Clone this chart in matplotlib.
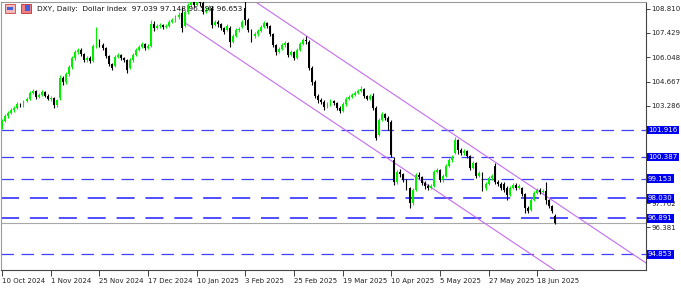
import matplotlib
matplotlib.use("Agg")
import matplotlib.pyplot as plt
from matplotlib.patches import Rectangle

# Daily DXY candles (one entry per trading day)
opens = [102.14, 102.43, 102.71, 102.88, 103.05, 103.17, 103.39, 103.28, 103.56, 103.68,
         104.02, 104.13, 103.79, 103.90, 104.07, 103.85, 103.68, 103.73, 103.34, 103.73,
         104.87, 104.64, 105.10, 105.50, 106.01, 106.35, 106.46, 106.23, 105.89, 106.01,
         105.84, 106.69, 107.03, 106.74, 106.57, 106.12, 105.67, 105.55, 106.06, 106.18,
         106.01, 105.89, 105.44, 105.89, 106.18, 106.46, 106.63, 106.80, 106.57, 106.69,
         107.94, 107.71, 107.82, 107.88, 107.77, 107.82, 108.05, 108.16, 108.33, 108.56,
         107.82, 108.62, 109.02, 109.19, 109.02, 109.30, 109.13, 108.62, 108.73, 108.85,
         107.88, 108.05, 107.94, 107.71, 107.60, 107.71, 106.91, 107.26, 107.60, 107.77,
         108.85, 108.16, 107.60, 107.26, 107.37, 107.54, 107.77, 107.99, 107.82, 107.37,
         106.74, 106.35, 106.52, 106.74, 106.86, 106.18, 106.35, 106.01, 106.46, 106.80,
         107.03, 106.91, 105.44, 104.64, 103.85, 103.62, 103.51, 103.22, 103.39, 103.56,
         103.45, 103.17, 103.00, 103.39, 103.68, 103.79, 103.90, 104.02, 104.13, 104.25,
         103.85, 103.68, 103.85, 103.17, 101.63, 102.48, 102.83, 102.60, 102.37, 100.21,
         98.96, 99.53, 99.42, 99.08, 98.62, 97.77, 98.51, 99.36, 99.25, 98.91,
         98.74, 98.62, 98.74, 99.53, 99.64, 99.08, 99.30, 99.87, 100.21, 100.61,
         101.35, 100.78, 100.61, 100.72, 100.44, 99.76, 100.04, 99.30, 99.47, 98.62,
         98.85, 99.19, 99.87, 98.96, 98.85, 98.85, 98.62, 98.22, 98.62, 98.79,
         98.62, 98.62, 98.28, 97.49, 97.38, 97.94, 98.34, 98.51, 98.39, 98.45,
         97.94, 97.60, 97.039]
highs = [102.55, 102.80, 102.98, 103.16, 103.26, 103.48, 103.47, 103.64, 103.78, 104.14,
         104.25, 104.20, 104.00, 104.20, 104.15, 103.95, 103.85, 103.80, 103.70, 105.05,
         104.98, 105.20, 105.60, 106.12, 106.48, 106.58, 106.55, 106.30, 106.10, 106.10,
         106.80, 107.77, 107.10, 106.85, 106.65, 106.20, 105.75, 106.15, 106.28, 106.26,
         106.08, 105.95, 105.98, 106.28, 106.55, 106.72, 106.92, 106.88, 106.78, 108.16,
         108.10, 107.95, 108.00, 107.96, 107.92, 108.15, 108.28, 108.45, 108.60, 108.90,
         108.75, 109.15, 109.45, 109.40, 109.85, 110.10, 109.25, 108.90, 109.00, 108.95,
         108.15, 108.16, 108.00, 107.77, 107.94, 107.80, 107.37, 107.71, 107.77, 108.16,
         109.47, 108.28, 107.65, 107.48, 107.65, 107.88, 108.10, 108.05, 107.88, 107.45,
         106.80, 106.63, 106.85, 106.97, 106.91, 106.46, 106.40, 106.55, 106.91, 107.15,
         107.26, 107.03, 105.55, 104.76, 103.96, 103.75, 103.60, 103.50, 103.68, 103.62,
         103.50, 103.28, 103.48, 103.79, 103.90, 104.00, 104.13, 104.25, 104.42, 104.30,
         103.90, 103.96, 104.00, 103.28, 102.60, 102.95, 102.90, 102.70, 102.48, 100.38,
         99.64, 99.70, 99.50, 99.15, 98.70, 98.62, 99.50, 99.53, 99.30, 99.00,
         98.85, 98.85, 99.64, 99.76, 99.70, 99.42, 99.98, 100.32, 100.50, 101.52,
         101.40, 100.90, 100.84, 100.80, 100.50, 100.15, 100.10, 99.60, 99.55, 98.96,
         99.30, 99.42, 100.04, 99.08, 98.96, 98.96, 98.74, 98.74, 98.91, 98.90,
         98.85, 98.70, 98.35, 97.60, 98.05, 98.45, 98.62, 98.60, 98.56, 98.96,
         98.00, 97.65, 97.148]
lows = [101.98, 102.35, 102.62, 102.80, 102.96, 103.10, 103.20, 103.22, 103.48, 103.60,
        103.95, 103.70, 103.72, 103.82, 103.78, 103.60, 103.55, 103.17, 103.25, 103.62,
        104.45, 104.55, 105.00, 105.40, 105.92, 106.25, 106.12, 105.78, 105.80, 105.72,
        105.78, 106.60, 106.62, 106.45, 106.02, 105.55, 105.32, 105.48, 105.98, 105.92,
        105.80, 105.15, 105.36, 105.80, 106.10, 106.38, 106.55, 106.48, 106.50, 106.62,
        107.55, 107.65, 107.72, 107.65, 107.70, 107.75, 107.98, 108.08, 108.25, 107.48,
        107.75, 108.50, 108.90, 108.90, 108.95, 108.95, 108.50, 108.55, 108.65, 107.71,
        107.80, 107.77, 107.60, 107.37, 107.52, 106.63, 106.85, 107.20, 107.50, 107.70,
        107.88, 107.48, 106.91, 107.15, 107.28, 107.48, 107.70, 107.70, 107.26, 106.63,
        106.18, 106.28, 106.45, 106.65, 106.06, 106.10, 105.89, 105.95, 106.40, 106.74,
        106.80, 105.32, 104.50, 103.73, 103.45, 103.40, 103.05, 103.15, 103.30, 103.35,
        103.05, 102.88, 102.95, 103.30, 103.60, 103.72, 103.82, 103.96, 104.05, 103.75,
        103.60, 103.60, 103.05, 101.35, 101.55, 102.40, 102.48, 101.92, 100.38, 98.80,
        98.85, 99.25, 98.96, 98.50, 97.49, 97.65, 98.45, 99.15, 98.80, 98.55,
        98.50, 98.55, 98.68, 99.45, 98.96, 98.98, 99.22, 99.80, 100.10, 100.55,
        100.55, 100.50, 100.52, 100.32, 99.64, 99.70, 99.20, 99.25, 98.45, 98.50,
        98.78, 99.10, 98.85, 98.75, 98.50, 98.40, 97.94, 98.15, 98.55, 98.50,
        98.55, 98.15, 97.20, 97.20, 97.30, 97.88, 98.28, 98.30, 98.32, 97.70,
        97.49, 97.20, 96.598]
closes = [102.43, 102.71, 102.88, 103.05, 103.17, 103.39, 103.28, 103.56, 103.68, 104.02,
          104.13, 103.79, 103.90, 104.07, 103.85, 103.68, 103.73, 103.34, 103.62, 104.87,
          104.64, 105.10, 105.50, 106.01, 106.35, 106.46, 106.23, 105.89, 106.01, 105.84,
          106.69, 107.03, 106.74, 106.57, 106.12, 105.67, 105.44, 106.06, 106.18, 106.01,
          105.89, 105.32, 105.89, 106.18, 106.46, 106.63, 106.80, 106.57, 106.69, 107.94,
          107.71, 107.82, 107.88, 107.77, 107.82, 108.05, 108.16, 108.33, 108.45, 107.71,
          108.62, 109.02, 109.30, 109.02, 109.19, 109.13, 108.62, 108.73, 108.85, 107.88,
          108.05, 107.94, 107.71, 107.48, 107.82, 106.91, 107.26, 107.60, 107.65, 108.05,
          108.16, 107.60, 107.26, 107.37, 107.54, 107.77, 107.99, 107.82, 107.37, 106.74,
          106.35, 106.52, 106.74, 106.86, 106.18, 106.35, 106.01, 106.46, 106.80, 107.03,
          106.97, 105.44, 104.64, 103.85, 103.62, 103.51, 103.22, 103.39, 103.56, 103.45,
          103.17, 103.00, 103.39, 103.68, 103.79, 103.90, 104.02, 104.13, 104.25, 103.85,
          103.68, 103.85, 103.17, 101.46, 102.48, 102.83, 102.60, 102.37, 100.50, 98.96,
          99.53, 99.42, 99.08, 98.62, 97.77, 98.51, 99.36, 99.25, 98.91, 98.74,
          98.62, 98.74, 99.53, 99.64, 99.08, 99.30, 99.87, 100.21, 100.38, 101.35,
          100.78, 100.61, 100.72, 100.44, 99.76, 100.04, 99.30, 99.47, 98.62, 98.85,
          99.19, 99.30, 98.96, 98.85, 98.62, 98.51, 98.22, 98.62, 98.79, 98.62,
          98.74, 98.28, 97.49, 97.32, 97.94, 98.34, 98.51, 98.39, 98.45, 97.94,
          97.60, 97.32, 96.653]

# date labels sit every 16 bars
tick_bars = [0, 16, 32, 48, 64, 80, 96, 112, 128, 144, 160, 176]
tick_labels = ['10 Oct 2024', '1 Nov 2024', '25 Nov 2024', '17 Dec 2024', '10 Jan 2025',
               '3 Feb 2025', '25 Feb 2025', '19 Mar 2025', '10 Apr 2025', '5 May 2025',
               '27 May 2025', '18 Jun 2025']
price_ticks = [108.810, 107.429, 106.048, 104.667, 103.286, 101.905, 100.524,
               99.143, 97.762, 96.381, 95.000]
# these price labels sit right under a level box, so they can't be seen
hidden_ticks = [101.905, 100.524, 99.143, 95.000]

# horizontal levels drawn by the user
levels = [101.916, 100.387, 99.153, 98.030, 96.891, 94.853]
bold_levels = [98.030, 96.891]
bid_price = 96.653

# descending channel: (bar, price) of both ends
channel_upper = [(60, 111.89), (215, 93.99)]
channel_lower = [(60, 108.02), (215, 90.12)]

title = 'DXY, Daily:  Dollar Index  97.039 97.148 96.598 96.653'

fig = plt.figure(figsize=(6.81, 2.93), dpi=100)
ax = fig.add_axes([1 / 681, 1 - 270 / 293, 645 / 681, 268 / 293])

# candles
for i in range(len(closes)):
    o, h, l, c = opens[i], highs[i], lows[i], closes[i]
    col = '#00f000' if c >= o else '#000000'
    ax.vlines(i, l, h, color=col, lw=0.8, zorder=3)
    body = max(abs(c - o), 0.02)
    ax.bar(i, body, bottom=min(o, c), width=0.62, color=col, lw=0, zorder=3)

# levels
for lvl in levels:
    lw = 1.3 if lvl in bold_levels else 0.9
    ax.axhline(lvl, color='#4040ff', lw=lw, ls=(0, (10, 6)), zorder=2)
    ax.text(1.0 + 2 / 645, lvl, f'{lvl:.3f}', transform=ax.get_yaxis_transform(),
            color='white', fontsize=5, va='center', ha='left', clip_on=False, zorder=6,
            bbox=dict(boxstyle='square,pad=0.2', fc='#0000f0', ec='none'))

ax.axhline(bid_price, color='#a8a8a8', lw=0.8, zorder=2)

# channel
for line in (channel_upper, channel_lower):
    xs = [p[0] for p in line]
    ys = [p[1] for p in line]
    ax.plot(xs, ys, color='#c46cf0', lw=0.8, zorder=2)

ax.set_xlim(-0.4, 211.8)
ax.set_ylim(93.961, 109.189)

ax.yaxis.tick_right()
ax.set_yticks(price_ticks)
ax.set_yticklabels(['' if p in hidden_ticks else f'{p:.3f}' for p in price_ticks])
ax.tick_params(axis='y', length=3, width=0.6, pad=1, labelsize=5, colors='#222222')

ax.set_xticks(tick_bars)
ax.set_xticklabels(tick_labels)
for lbl in ax.get_xticklabels():
    lbl.set_ha('left')
ax.tick_params(axis='x', length=4, width=0.6, pad=2, labelsize=5, colors='#222222')

for side in ('left', 'top'):
    ax.spines[side].set_color('#9a9a9a')
    ax.spines[side].set_linewidth(0.8)
for side in ('right', 'bottom'):
    ax.spines[side].set_color('#444444')
    ax.spines[side].set_linewidth(0.8)

# header icons and text
fig.patches.append(Rectangle((5 / 681, 1 - 13 / 293), 10 / 681, 9 / 293, transform=fig.transFigure,
                             fc='#f4b8b8', ec='#d04040', lw=0.6))
fig.patches.append(Rectangle((7 / 681, 1 - 10 / 293), 6 / 681, 3 / 293, transform=fig.transFigure,
                             fc='#4060e0', ec='none'))
fig.patches.append(Rectangle((21 / 681, 1 - 13 / 293), 10 / 681, 9 / 293, transform=fig.transFigure,
                             fc='#f08080', ec='#c03030', lw=0.6))
fig.patches.append(Rectangle((25 / 681, 1 - 11 / 293), 5 / 681, 6 / 293, transform=fig.transFigure,
                             fc='#4060e0', ec='none'))
fig.text(37 / 681, 1 - 9 / 293, title, fontsize=5.3, va='center', ha='left', color='#111111')

plt.savefig('out.png', dpi=100)
